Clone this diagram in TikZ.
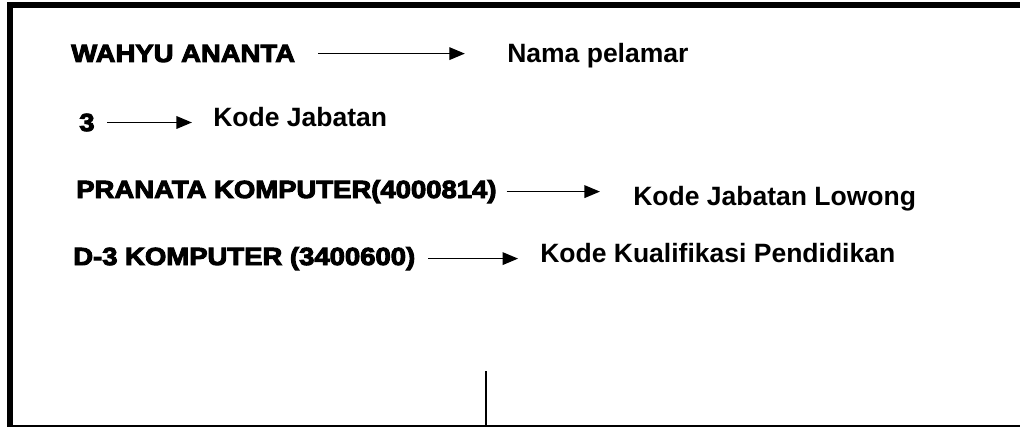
\documentclass[tikz,border=0pt]{standalone}
\usepackage{fontspec}
\setmainfont{Liberation Sans}
\newfontfamily\tebal[FakeStretch=1.11,FakeBold=4]{Liberation Sans Bold}
\usepackage{tikz}
\usetikzlibrary{arrows.meta}
\tikzstyle{arrow} = [line width=0.9pt,-{Triangle[length=11pt,width=9pt]}]
\tikzstyle{isian} = [anchor=base west, inner sep=0pt, font=\tebal\fontsize{17.6}{20}\selectfont]
\tikzstyle{keterangan} = [anchor=base west, inner sep=0pt, font=\bfseries\fontsize{18.85}{22}\selectfont]

\begin{document}
\begin{tikzpicture}[x=0.025cm, y=-0.025cm]
	\useasboundingbox (0,0) rectangle (1020,427);
	% bingkai
	\fill (7,2) rectangle (1020,8);
	\fill (7,2) rectangle (13,427);
	\draw[line width=0.8pt] (13,426) -- (1020,426);
	\draw[line width=0.8pt] (486,371) -- (486,426);
	% isian dan keterangannya
	\node[isian] (nama) at (71,62) {WAHYU ANANTA};
	\node[keterangan] (ketnama) at (507,63) {Nama pelamar};
	\node[isian] (kode) at (79,131) {3};
	\node[keterangan] (ketkode) at (213,127) {Kode Jabatan};
	\node[isian] (jabatan) at (76,198) {PRANATA KOMPUTER(4000814)};
	\node[keterangan] (ketjabatan) at (633,205) {Kode Jabatan Lowong};
	\node[isian] (pendidikan) at (73,265) {D-3 KOMPUTER (3400600)};
	\node[keterangan] (ketpendidikan) at (540,262) {Kode Kualifikasi Pendidikan};
	\draw[arrow, shorten <=16.4pt, shorten >=30pt] (nama.east) -- (nama.east -| ketnama.west);
	\draw[arrow, shorten <=9pt, shorten >=15pt] (kode.east) -- (kode.east -| ketkode.west);
	\draw[arrow, shorten <=7pt, shorten >=23.5pt] (jabatan.east) -- (jabatan.east -| ketjabatan.west);
	\draw[arrow, shorten <=9.2pt, shorten >=15.6pt] (pendidikan.east) -- (pendidikan.east -| ketpendidikan.west);
\end{tikzpicture}
\end{document}
